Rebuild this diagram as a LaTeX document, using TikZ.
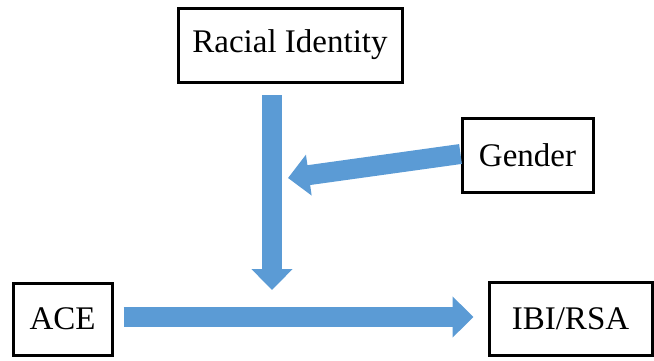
\documentclass[tikz,border=0pt]{standalone}
\usepackage{fontspec}
\setmainfont{Liberation Serif}
\usetikzlibrary{arrows.meta}
\definecolor{arrowblue}{HTML}{5B9BD5}

\begin{document}
\begin{tikzpicture}[x=1pt, y=-1pt,
  box/.style={draw=black, line width=3pt, inner sep=0pt,
    font=\fontsize{33}{39}\selectfont},
  fatarrow/.style={draw=arrowblue, line width=20pt,
    -{Triangle[length=21pt, width=40pt]}}]
  \useasboundingbox (0,0) rectangle (654,360);

  % Boxes
  \node[box, minimum width=224pt, minimum height=74pt] (race) at (290,45) {Racial Identity};
  \node[box, minimum width=131pt, minimum height=74pt] (gender) at (527.5,155) {Gender};
  \node[box, minimum width=99pt, minimum height=72pt] (ace) at (62.5,319) {ACE};
  \node[box, minimum width=163pt, minimum height=73pt] (ibi) at (570.5,318.5) {IBI/RSA};

  % Moderation points
  \coordinate (top) at (272,95);
  \coordinate (mod) at (272,290);
  \coordinate (side) at (288,178);

  % Arrows
  \draw[fatarrow] (top) -- (mod);
  \draw[fatarrow] ([yshift=1pt]gender.west) -- (side);
  \draw[fatarrow] ([xshift=10pt,yshift=2pt]ace.east) -- ([xshift=-14pt,yshift=1.5pt]ibi.west);
\end{tikzpicture}
\end{document}
